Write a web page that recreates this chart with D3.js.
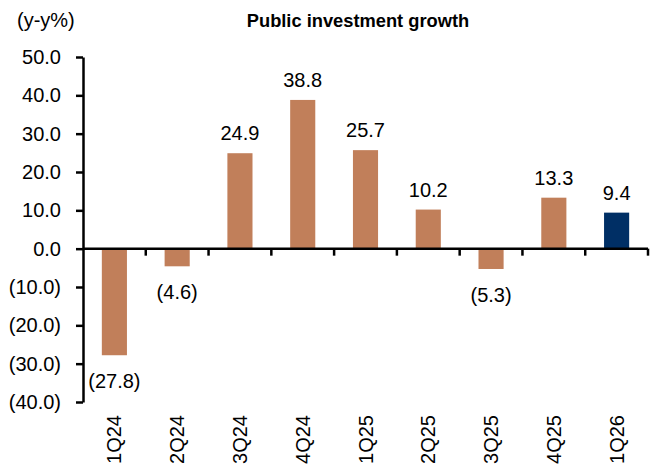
<!DOCTYPE html>
<html>
<head>
<meta charset="utf-8">
<script src="https://cdn.jsdelivr.net/npm/d3@7"></script>
<style>
  body { margin: 0; background: #fff; }
  text { font-family: Arial, "Liberation Sans", sans-serif; fill: #000; }
</style>
</head>
<body>
<div id="chart"></div>
<script>
// data
var quarters = ["1Q24", "2Q24", "3Q24", "4Q24", "1Q25", "2Q25", "3Q25", "4Q25", "1Q26"];
var growth = [-27.8, -4.6, 24.9, 38.8, 25.7, 10.2, -5.3, 13.3, 9.4];
var yTicks = [-40, -30, -20, -10, 0, 10, 20, 30, 40, 50];

var width = 653, height = 465;
var plotLeft = 83, plotRight = 648, plotTop = 57, plotBottom = 402;
var fs = "20px";

var svg = d3.select("#chart").append("svg")
    .attr("width", width).attr("height", height);

var x = d3.scaleBand().domain(quarters).range([plotLeft, plotRight]).paddingInner(0.6).paddingOuter(0.3);
var y = d3.scaleLinear().domain([-40, 50]).range([plotBottom, plotTop]);

function fmt(v) {
  return v < 0 ? "(" + d3.format(".1f")(-v) + ")" : d3.format(".1f")(v);
}

// bars
svg.selectAll(".bar").data(growth).enter().append("rect")
    .attr("class", "bar")
    .attr("x", function(d, i) { return x(quarters[i]); })
    .attr("width", x.bandwidth())
    .attr("y", function(d) { return y(Math.max(0, d)); })
    .attr("height", function(d) { return Math.abs(y(d) - y(0)); })
    .attr("fill", function(d, i) { return i == quarters.length - 1 ? "#002F65" : "#C17F5A"; });

// value labels
svg.selectAll(".lbl").data(growth).enter().append("text")
    .attr("class", "lbl")
    .attr("x", function(d, i) { return x(quarters[i]) + x.bandwidth() / 2; })
    .attr("y", function(d) { return d >= 0 ? y(d) - 13 : y(d) + 33; })
    .attr("text-anchor", "middle")
    .style("font-size", fs)
    .text(fmt);

// y axis
var yAxis = d3.axisLeft(y).tickValues(yTicks).tickFormat(fmt).tickSize(7).tickSizeOuter(0);
var gy = svg.append("g").attr("transform", "translate(" + plotLeft + ",0)").call(yAxis);
gy.select(".domain").attr("stroke", "#000").attr("stroke-width", 2.5);
gy.selectAll(".tick line").attr("stroke", "#000").attr("stroke-width", 2.5);
gy.selectAll(".tick text").attr("x", -22).style("font-size", fs).style("font-family", "Arial, 'Liberation Sans', sans-serif");

// x axis on the zero line, ticks between categories
var gx = svg.append("g").attr("class", "xaxis");
gx.append("line")
    .attr("x1", plotLeft).attr("x2", plotRight)
    .attr("y1", y(0)).attr("y2", y(0))
    .attr("stroke", "#000").attr("stroke-width", 2.5);
var edges = d3.range(1, quarters.length + 1).map(function(i) { return x(quarters[i - 1]) - x.step() * x.paddingInner() / 2 + x.step(); });
gx.selectAll(".xt").data(edges).enter().append("line")
    .attr("class", "xt")
    .attr("x1", function(d) { return d; }).attr("x2", function(d) { return d; })
    .attr("y1", y(0)).attr("y2", y(0) + 7)
    .attr("stroke", "#000").attr("stroke-width", 2.5);

// rotated category labels
svg.selectAll(".cat").data(quarters).enter().append("text")
    .attr("class", "cat")
    .attr("transform", function(d) {
      return "translate(" + (x(d) + x.bandwidth() / 2 + 7) + ",415) rotate(-90)";
    })
    .attr("text-anchor", "end")
    .style("font-size", fs)
    .text(function(d) { return d; });

// titles
svg.append("text").attr("x", 17).attr("y", 27).style("font-size", fs).text("(y-y%)");
svg.append("text").attr("x", 358).attr("y", 27).attr("text-anchor", "middle")
    .style("font-size", "18.3px").style("font-weight", "bold").text("Public investment growth");
</script>
</body>
</html>
